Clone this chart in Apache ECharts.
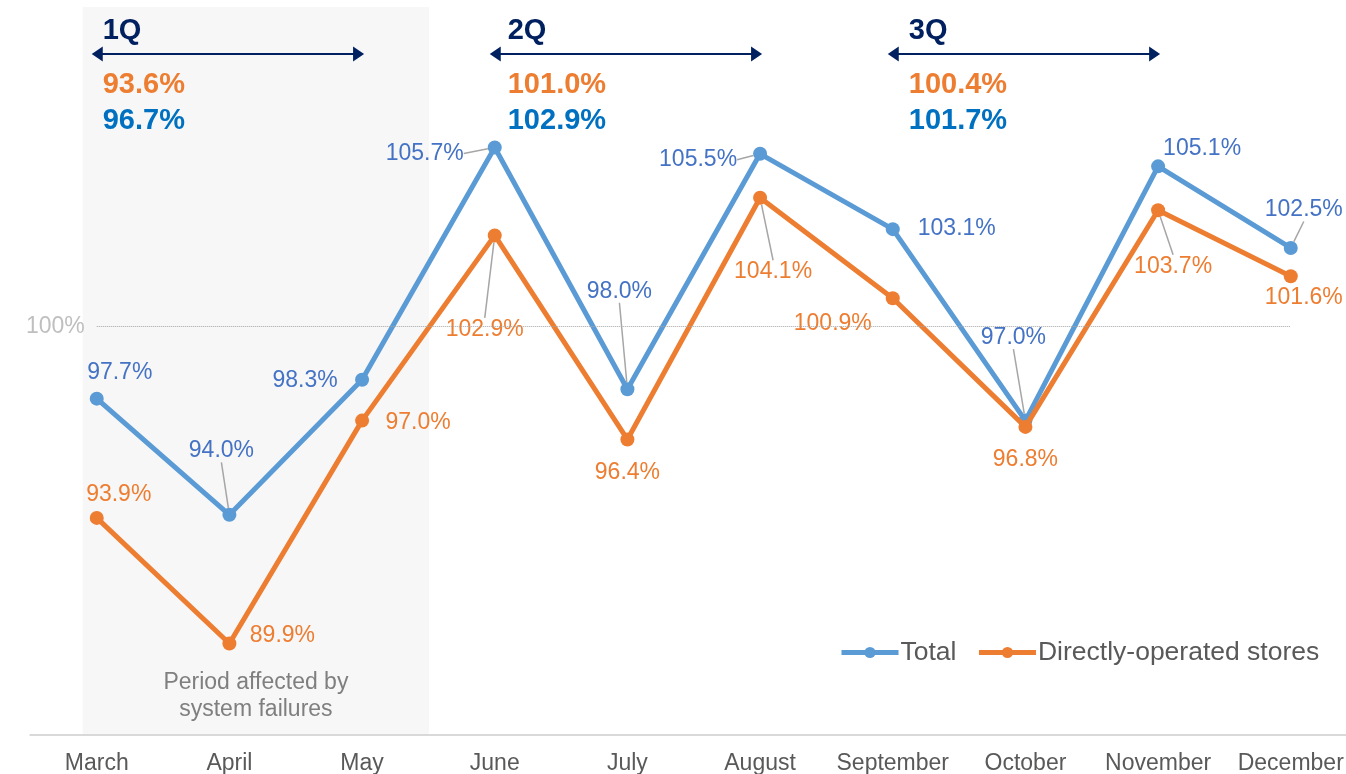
<!DOCTYPE html>
<html><head><meta charset="utf-8">
<script src="https://cdn.jsdelivr.net/npm/echarts@6/dist/echarts.min.js"></script>
<style>html,body{margin:0;padding:0;background:#fff;overflow:hidden}#c{width:1346px;height:774px}</style>
</head><body><div id="c"></div>
<script>
// ---- data ----
const months = ['March','April','May','June','July','August','September','October','November','December'];
const totalValues  = [97.7, 94.0, 98.3, 105.7, 98.0, 105.5, 103.1, 97.0, 105.1, 102.5];
const directValues = [93.9, 89.9, 97.0, 102.9, 96.4, 104.1, 100.9, 96.8, 103.7, 101.6];
const quarterNames  = ['1Q', '2Q', '3Q'];
const quarterStart  = ['March', 'June', 'September'];
const quarterEnd    = ['May', 'August', 'November'];
const quarterDirect = [93.6, 101.0, 100.4];
const quarterTotal  = [96.7, 102.9, 101.7];
const referenceLevel = 100;
const referenceLabel = '100%';
const shadedNote = 'Period affected by\nsystem failures';
const seriesNames = ['Total', 'Directly-operated stores'];

// ---- styling (label offsets in px from the point) ----
const totalLabelOffsets  = [[23,-26],[-8,-64],[-57,1],[-70,6],[-8,-98],[-62,6],[64,0],[-12,-83],[44,-18],[13,-38]];
const directLabelOffsets = [[22,-23],[53,-8],[56,2],[-10,94],[0,33],[13,74],[-60,25],[0,33],[15,56],[13,21]];
const totalLeaders  = [false,true,false,true,true,true,false,true,false,true];
const directLeaders = [false,false,false,true,false,true,false,false,true,false];

const FONT = 'Liberation Sans, Arial, sans-serif';
const BLUE_LINE = '#5B9BD5', ORANGE = '#ED7D31', BLUE_LABEL = '#4472C4', BOLD_BLUE = '#0070C0', NAVY = '#002060';

function buildData(values, leaders) {
  return values.map((v, i) => ({
    value: v,
    labelLine: { show: leaders[i], lineStyle: { color: '#A6A6A6', width: 1.5 } }
  }));
}
const offsets = [totalLabelOffsets, directLabelOffsets];

const chart = echarts.init(document.getElementById('c'), null, { renderer: 'canvas' });

function seriesCfg(name, values, leaders, lineColor, labelColor, idx) {
  return {
    name: name,
    type: 'line',
    data: buildData(values, leaders),
    symbol: 'circle',
    symbolSize: 14,
    lineStyle: { width: 5, color: lineColor },
    itemStyle: { color: lineColor },
    z: 3 + idx,
    label: {
      show: true,
      position: 'inside',
      formatter: p => p.value.toFixed(1) + '%',
      color: labelColor,
      fontSize: 23,
      fontFamily: FONT
    },
    labelLayout: function (params) {
      const o = offsets[idx][params.dataIndex];
      return { dx: o[0], dy: o[1], hideOverlap: false };
    },
    emphasis: { disabled: true },
    animation: false
  };
}

const option = {
  animation: false,
  grid: { left: 30.4, width: 1326.7, top: 0, bottom: 39.5, containLabel: false, outerBoundsMode: 'none' },
  xAxis: {
    type: 'category',
    data: months,
    boundaryGap: true,
    axisLine: { show: true, lineStyle: { color: '#D9D9D9', width: 2 } },
    axisTick: { show: false },
    axisLabel: { color: '#595959', fontSize: 23, fontFamily: FONT, margin: 18, interval: 0 },
    splitLine: { show: false }
  },
  yAxis: { type: 'value', min: 87, max: 110.4, show: false },
  legend: {
    data: seriesNames,
    left: 834, top: 634,
    itemWidth: 57, itemHeight: 14, itemGap: 20,
    lineStyle: { width: 5 },
    textStyle: { color: '#595959', fontSize: 26.5, fontFamily: FONT, padding: [0, 0, 0, -3] },
    selectedMode: false
  },
  series: [
    Object.assign(seriesCfg(seriesNames[0], totalValues, totalLeaders, BLUE_LINE, BLUE_LABEL, 0), {
      markLine: {
        silent: true, symbol: 'none', animation: false,
        lineStyle: { type: 'dotted', color: '#A6A6A6', width: 1 },
        label: { show: true, position: 'start', formatter: referenceLabel, color: '#BFBFBF', fontSize: 23, fontFamily: FONT, distance: 12 },
        data: [[{ coord: [months[0], referenceLevel] }, { coord: [months[months.length - 1], referenceLevel] }]]
      }
    }),
    seriesCfg(seriesNames[1], directValues, directLeaders, ORANGE, ORANGE, 1)
  ]
};
chart.setOption(option);

// ---- decorations positioned from the category axis ----
const px = m => chart.convertToPixel({ xAxisIndex: 0 }, m);
const axisY = chart.convertToPixel({ yAxisIndex: 0 }, 87);
const elements = [];
const shadeL = px('March') - 14, shadeR = px('May') + 67;
elements.push({
  type: 'rect', z: -10, silent: true,
  shape: { x: shadeL, y: 7, width: shadeR - shadeL, height: axisY - 7 },
  style: { fill: '#F7F7F7' }
});
elements.push({
  type: 'text', z: 10, silent: true,
  style: { text: shadedNote, x: (shadeL + shadeR) / 2, y: 696.5, align: 'center', verticalAlign: 'middle',
           font: '23px ' + FONT, fill: '#7F7F7F', lineHeight: 27 }
});
const textOffsets = [6, 13, 16];
quarterNames.forEach((q, i) => {
  const x1 = px(quarterStart[i]) - 5, x2 = px(quarterEnd[i]) + 2, y = 54;
  elements.push({ type: 'line', z: 10, silent: true, shape: { x1: x1 + 6, y1: y, x2: x2 - 6, y2: y }, style: { stroke: NAVY, lineWidth: 2 } });
  elements.push({ type: 'polygon', z: 10, silent: true, shape: { points: [[x1, y], [x1 + 11, y - 7.5], [x1 + 11, y + 7.5]] }, style: { fill: NAVY } });
  elements.push({ type: 'polygon', z: 10, silent: true, shape: { points: [[x2, y], [x2 - 11, y - 7.5], [x2 - 11, y + 7.5]] }, style: { fill: NAVY } });
  const tx = px(quarterStart[i]) + textOffsets[i];
  elements.push({ type: 'text', z: 10, silent: true, style: { text: q, x: tx, y: 31, verticalAlign: 'middle', font: 'bold 29px ' + FONT, fill: NAVY } });
  elements.push({ type: 'text', z: 10, silent: true, style: { text: quarterDirect[i].toFixed(1) + '%', x: tx, y: 85, verticalAlign: 'middle', font: 'bold 29px ' + FONT, fill: ORANGE } });
  elements.push({ type: 'text', z: 10, silent: true, style: { text: quarterTotal[i].toFixed(1) + '%', x: tx, y: 121, verticalAlign: 'middle', font: 'bold 29px ' + FONT, fill: BOLD_BLUE } });
});
chart.setOption({ graphic: { elements: elements } });
</script>
</body></html>
